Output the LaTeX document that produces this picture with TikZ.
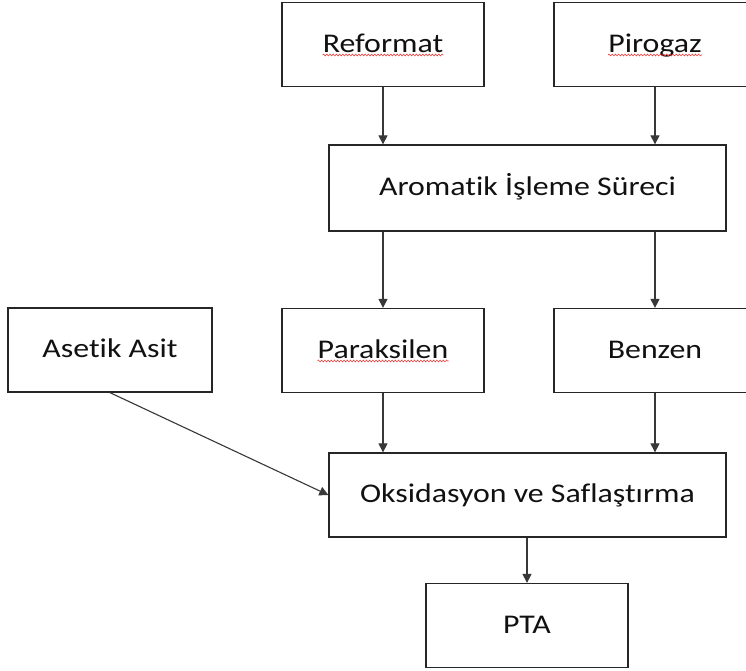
\documentclass[tikz,border=0pt]{standalone}
\usepackage{fontspec}
\setmainfont{Carlito}[Ligatures={NoCommon,NoContextual}]
\usetikzlibrary{arrows.meta,decorations.pathmorphing}
\definecolor{linec}{HTML}{383838}
\definecolor{boxc}{HTML}{262626}
\definecolor{txtc}{HTML}{111111}
\definecolor{squigc}{HTML}{E8413C}
\newcommand\lbl[1]{\scalebox{1.18}[1]{\fontsize{27}{32}\selectfont #1}}
\newlength\okw
\begin{document}
\begin{tikzpicture}[x=1pt,y=1pt,
  box/.style={draw=boxc,line width=1.3pt,minimum width=#1,minimum height=84pt,inner sep=0pt,fill=white},
  box/.default=202pt,
  txt/.style={inner sep=0pt,text=txtc,anchor=base},
  arr/.style={draw=linec,line width=1.1pt,-{Triangle[width=9pt,length=9pt]}},
  squig/.style={draw=squigc,line width=0.6pt,decorate,decoration={snake,amplitude=0.9pt,segment length=3.2pt}}]
\clip (0,0) rectangle (746,-670);
\fill[white] (0,0) rectangle (746,-670);
\settowidth\okw{\lbl{Oksidasyon}}
% boxes
\node[box] (ref) at (383,-44.5) {};
\node[box] (pir) at (655,-44.5) {};
\node[box=397pt,minimum height=86pt] (aro) at (527.5,-188) {};
\node[box=204pt] (ase) at (110,-350) {};
\node[box] (par) at (383,-350.5) {};
\node[box] (ben) at (655,-350.5) {};
\node[box=397pt] (oks) at (527.5,-495) {};
\node[box] (pta) at (527,-625.5) {};
% texts
\node[txt] (reft) at ([yshift=-7.5pt]ref.center) {\lbl{Reformat}};
\node[txt] (pirt) at ([yshift=-7.5pt]pir.center) {\lbl{Pirogaz}};
\node[txt] (arot) at ([yshift=-7.5pt]aro.center) {\lbl{Aromatik İşleme Süreci}};
\node[txt] (aset) at ([yshift=-7.5pt]ase.center) {\lbl{Asetik Asit}};
\node[txt] (part) at ([yshift=-7.5pt]par.center) {\lbl{Paraksilen}};
\node[txt] (bent) at ([yshift=-7.5pt]ben.center) {\lbl{Benzen}};
\node[txt] (okst) at ([yshift=-7.5pt]oks.center) {\lbl{Oksidasyon ve Saflaştırma}};
\node[txt] (ptat) at ([yshift=-7.5pt]pta.center) {\lbl{PTA}};
% spell-check underlines
\draw[squig] ([yshift=-3pt]reft.base west) -- ([yshift=-3pt]reft.base east);
\draw[squig] ([yshift=-3pt]pirt.base west) -- ([yshift=-3pt]pirt.base east);
\draw[squig] ([yshift=-3pt]part.base west) -- ([yshift=-3pt]part.base east);
\draw[squig] ([yshift=-3pt]okst.base west) -- ++(\okw,0);
% connectors
\draw[arr] (ref.south) -- (ref.south |- aro.north);
\draw[arr] (pir.south) -- (pir.south |- aro.north);
\draw[arr] (par.north |- aro.south) -- (par.north);
\draw[arr] (ben.north |- aro.south) -- (ben.north);
\draw[arr] (par.south) -- (par.south |- oks.north);
\draw[arr] (ben.south) -- (ben.south |- oks.north);
\draw[arr] (ase.south) -- (oks.west);
\draw[arr] (pta.north |- oks.south) -- (pta.north);
\end{tikzpicture}
\end{document}
